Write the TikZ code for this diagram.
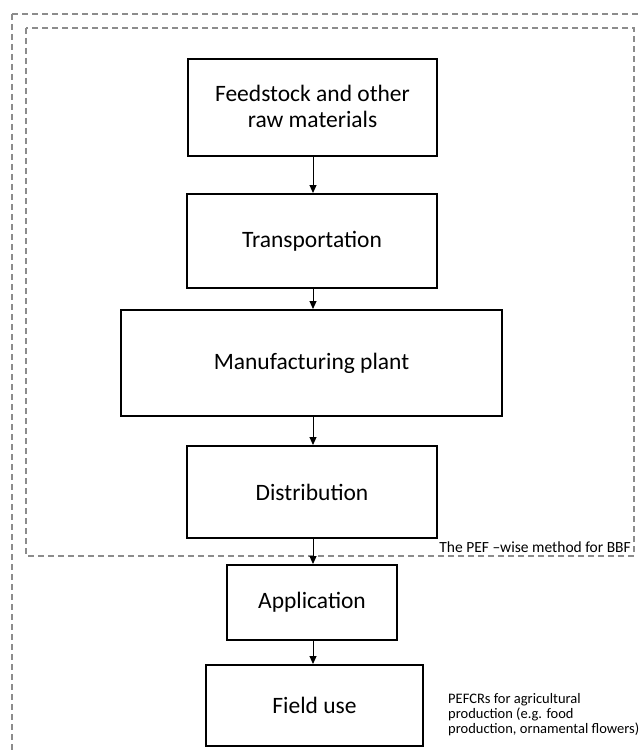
\documentclass[tikz,border=0pt]{standalone}
\usepackage{fontspec}
\setmainfont{Carlito}
\usetikzlibrary{arrows.meta}
\begin{document}
\begin{tikzpicture}[x=1pt,y=-1pt,
  box/.style={draw=black,line width=1.8pt,fill=white},
  frame/.style={draw=black!45,line width=1.2pt,dash pattern=on 6pt off 4pt},
  conn/.style={draw=black,line width=1pt,-{Triangle[length=8pt,width=7pt]}},
  boxtext/.style={font=\fontsize{23.5}{26}\selectfont,align=center},
  note/.style={font=\fontsize{15.5}{17}\selectfont,align=left}]
\useasboundingbox (0,0) rectangle (641,754);
\draw[frame] (12,14) -- (645,14);
\draw[frame] (12,14) -- (12,760);
\draw[frame] (26,28) rectangle (634,556);
% boxes
\draw[box] (188,59) rectangle (437,156);
\node[boxtext] (feed) at (312.5,106) {Feedstock and other\\raw materials};
\draw[box] (187,194) rectangle (437,288);
\node[boxtext] (trans) at (312,241) {Transportation};
\draw[box] (121,310) rectangle (502,416);
\node[boxtext] (manu) at (311.5,363) {Manufacturing plant};
\draw[box] (187,446) rectangle (437,538);
\node[boxtext] (dist) at (312,492) {Distribution};
\draw[box] (227,565) rectangle (397,640);
\node[boxtext] (app) at (312,602.5) {Application};
\draw[box] (206,665) rectangle (423,746);
\node[boxtext] (field) at (314.5,705.5) {Field use};
% connectors
\coordinate (c1a) at (313,156); \coordinate (c1b) at (313,193);
\coordinate (c2a) at (313,288); \coordinate (c2b) at (313,309);
\coordinate (c3a) at (313,416); \coordinate (c3b) at (313,445);
\coordinate (c4a) at (313,538); \coordinate (c4b) at (313,564);
\coordinate (c5a) at (313,640); \coordinate (c5b) at (313,664);
\draw[conn] (c1a) -- (c1b);
\draw[conn] (c2a) -- (c2b);
\draw[conn] (c3a) -- (c3b);
\draw[conn] (c4a) -- (c4b);
\draw[conn] (c5a) -- (c5b);
% labels
\node[note,anchor=base east,inner sep=0pt] (pef) at (631,552) {The PEF –wise method for BBF};
\node[note,anchor=north west,inner sep=0pt,font=\fontsize{14.5}{15}\selectfont] (pefcr) at (448,693) {PEFCRs for agricultural\\production (e.g. food\\production, ornamental flowers)};
\end{tikzpicture}
\end{document}
